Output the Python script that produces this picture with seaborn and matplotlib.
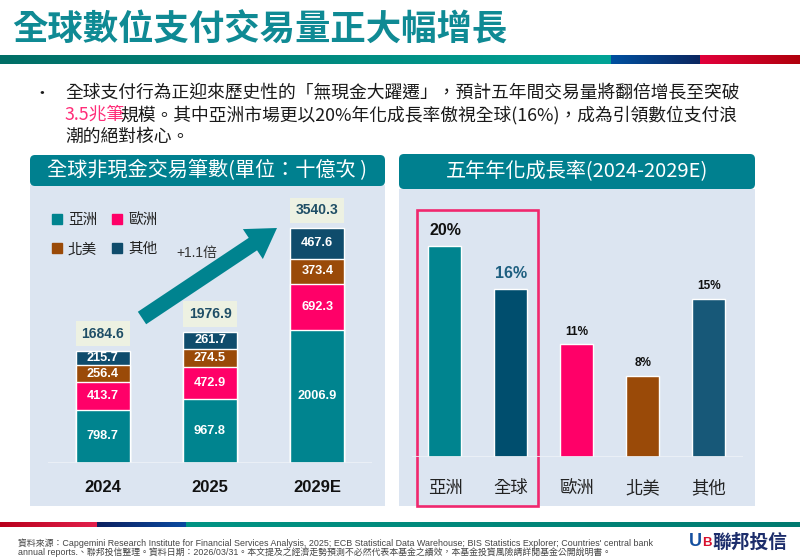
import numpy as np
import matplotlib
matplotlib.use("Agg")
import matplotlib.pyplot as plt
import seaborn as sns
from matplotlib.patches import Rectangle, FancyBboxPatch, FancyArrow
from matplotlib.colors import LinearSegmentedColormap
from matplotlib.lines import Line2D

# Data: global non-cash transactions (billions)
years = ["2024", "2025", "2029E"]
asia = [798.7, 967.8, 2006.9]
europe = [413.7, 472.9, 692.3]
north_america = [256.4, 274.5, 373.4]
others = [215.7, 261.7, 467.6]
totals = [1684.6, 1976.9, 3540.3]

# Data: 5-year CAGR (2024-2029E)
regions = ["亞洲", "全球", "歐洲", "北美", "其他"]
cagr = [20.1, 16.0, 10.8, 7.7, 15.0]
cagr_labels = ["20%", "16%", "11%", "8%", "15%"]

# Colours
c_asia = "#00848f"
c_eu = "#ff0068"
c_na = "#9a4a08"
c_other = "#0f4c6c"
c_global = "#004e6e"
c_other_r = "#175878"
teal = "#00838f"
panel_bg = "#dce5f1"
header_c = "#00808f"

sns.set_theme(style="white")
plt.rcParams["font.family"] = ["Noto Sans CJK TC", "DejaVu Sans"]
num_font = ["Liberation Sans", "Noto Sans CJK TC"]

W, H = 800, 557
fig = plt.figure(figsize=(8, 5.57), dpi=100)
fig.patch.set_facecolor("white")


def px_axes(x0, y0, x1, y1):
    return fig.add_axes([x0 / W, 1 - y1 / H, (x1 - x0) / W, (y1 - y0) / H])


bg = fig.add_axes([0, 0, 1, 1])
bg.axis("off")


def band(x0, x1, y0, y1, c0, c1):
    cmap = LinearSegmentedColormap.from_list("g", [c0, c1])
    bg.imshow(np.linspace(0, 1, 256)[None, :], cmap=cmap, extent=(x0, x1, y1, y0),
              aspect="auto", interpolation="bilinear")


# top and bottom colour bands
band(0, 611, 55, 64, "#006e66", "#00a396")
band(611, 700, 55, 64, "#0050a0", "#0c2760")
band(700, 800, 55, 64, "#e2003c", "#b0000c")
band(0, 97, 522, 527, "#b8001c", "#e2204c")
band(97, 186, 522, 527, "#0c2060", "#0a4aa0")
band(186, 800, 522, 527, "#009484", "#007a70")
bg.set_xlim(0, W)
bg.set_ylim(H, 0)

# title
bg.text(12, 30, "全球數位支付交易量正大幅增長", fontsize=25.5, color="#0f8a94",
        weight="bold", ha="left", va="center")

# bullet text
body = "#1a1a1a"
bg.text(42, 93, "•", fontsize=12, color=body, ha="center", va="center")
bg.text(65, 93, "全球支付行為正迎來歷史性的「無現金大躍遷」，預計五年間交易量將翻倍增長至突破",
        fontsize=12.8, color=body, ha="left", va="center")
t1 = bg.text(65, 115, "3.5兆筆", fontsize=12.8, color="#ff2d78", ha="left", va="center")
bg.annotate("規模。其中亞洲市場更以20%年化成長率傲視全球(16%)，成為引領數位支付浪",
            xy=(1, 0.5), xycoords=t1, xytext=(-3.5, 0), textcoords="offset points",
            fontsize=12.8, color=body, ha="left", va="center")
bg.text(65, 137, "潮的絕對核心。", fontsize=12.8, color=body, ha="left", va="center")

# panels
bg.add_patch(Rectangle((30, 185), 355, 321, fc=panel_bg, ec="none"))
bg.add_patch(FancyBboxPatch((30, 155), 355, 31, boxstyle="round,pad=0,rounding_size=5",
                            fc=header_c, ec="none"))
bg.text(207, 171, "全球非現金交易筆數(單位：十億次 )", fontsize=14.5, color="white",
        weight="medium", ha="center", va="center")

bg.add_patch(Rectangle((399, 189), 356, 317, fc=panel_bg, ec="none"))
bg.add_patch(FancyBboxPatch((399, 154), 356, 35, boxstyle="round,pad=0,rounding_size=5",
                            fc=header_c, ec="none"))
bg.text(577, 171, "五年年化成長率(2024-2029E)", fontsize=14.5, color="white",
        weight="medium", ha="center", va="center")

# growth arrow
bg.add_patch(FancyArrow(142, 318, 277 - 142, 228 - 318, width=15, head_width=36,
                        head_length=29, length_includes_head=True, color=teal, lw=0, zorder=3))
bg.text(197, 253, "+1.1倍", fontsize=10, color="#333333", family=num_font,
        ha="center", va="center")

# pink highlight box
bg.add_patch(Rectangle((417, 210), 121, 296, fill=False, ec="#f0286e", lw=1.9, zorder=5))

# footer
foot = "#444444"
bg.text(18, 543, "資料來源：Capgemini Research Institute for Financial Services Analysis, 2025; "
        "ECB Statistical Data Warehouse; BIS Statistics Explorer; Countries' central bank",
        fontsize=6.4, color=foot, family=num_font, ha="left", va="center")
bg.text(18, 552, "annual reports.、聯邦投信整理。資料日期：2026/03/31。本文提及之經濟走勢預測"
        "不必然代表本基金之績效，本基金投資風險請詳閱基金公開說明書。",
        fontsize=6.4, color=foot, family=num_font, ha="left", va="center")
bg.text(787, 542, "聯邦投信", fontsize=13.5, weight="bold", color="#1c2d6b",
        ha="right", va="center")
bg.text(689, 542, "U", fontsize=13, weight="bold", color="#1550a0", family=num_font,
        ha="left", va="center")
bg.text(702.5, 543, "B", fontsize=9.5, weight="bold", color="#d8102e", family=num_font,
        ha="left", va="center")

# ---- left chart: stacked bars ----
ax1 = px_axes(48, 190, 372, 463)
ax1.patch.set_alpha(0)
cum = np.cumsum([asia, europe, north_america, others], axis=0)
for h, c in [(cum[3], c_other), (cum[2], c_na), (cum[1], c_eu), (cum[0], c_asia)]:
    sns.barplot(x=years, y=h, color=c, width=0.5, saturation=1, errorbar=None, ax=ax1)

for i in range(len(years)):
    bottom = 0
    for v in [asia[i], europe[i], north_america[i], others[i]]:
        ax1.text(i, bottom + v / 2, f"{v:.1f}", color="white", weight="bold",
                 fontsize=9.2, family=num_font, ha="center", va="center")
        bottom += v
    ax1.annotate(f"{totals[i]:.1f}", (i, cum[3][i]), xytext=(0, 12.6),
                 textcoords="offset points", ha="center", va="center",
                 fontsize=10, weight="bold", color="#1f4e66", family=num_font,
                 bbox=dict(boxstyle="square,pad=0.42", fc="#edf1e2", ec="none"))

ax1.set_ylim(0, 4111)
ax1.set_xlim(-0.51, 2.51)
ax1.axhline(0, color="#eef2f8", lw=1.2)
ax1.set_yticks([])
ax1.set_xlabel("")
ax1.set_ylabel("")
sns.despine(ax=ax1, left=True, bottom=True)
ax1.tick_params(axis="x", length=0, pad=12.5)
for lab in ax1.get_xticklabels():
    lab.set_fontfamily(num_font)
    lab.set_fontweight("bold")
    lab.set_fontsize(12)
    lab.set_color("#111111")

handles = [Line2D([], [], marker="s", ls="", color=c, markersize=7, label=l)
           for c, l in [(c_asia, "亞洲"), (c_na, "北美"), (c_eu, "歐洲"), (c_other, "其他")]]
ax1.legend(handles=handles, ncol=2, loc="upper left", bbox_to_anchor=(51 / W, 1 - 213 / H),
           bbox_transform=fig.transFigure, frameon=False, fontsize=10.5, handletextpad=0.35,
           columnspacing=1.0, labelspacing=1.05, borderpad=0, borderaxespad=0,
           handlelength=0.8, labelcolor="#222222")

# ---- right chart: CAGR bars ----
ax2 = px_axes(412, 195, 743, 457)
ax2.patch.set_alpha(0)
sns.barplot(x=regions, y=cagr, hue=regions, palette=[c_asia, c_global, c_eu, c_na, c_other_r],
            width=0.5, saturation=1, errorbar=None, legend=False, ax=ax2)
sizes = [11.5, 11.5, 8.5, 8.5, 8.5]
colors = ["#111111", "#1e5f80", "#111111", "#111111", "#111111"]
offsets = [11.0, 10.8, 8.6, 9.4, 9.4]
for i, (v, lab) in enumerate(zip(cagr, cagr_labels)):
    ax2.annotate(lab, (i, v), xytext=(0, offsets[i]), textcoords="offset points",
                 ha="center", va="center", fontsize=sizes[i], weight="bold",
                 color=colors[i], family=num_font)
ax2.set_ylim(0, 24.95)
ax2.set_xlim(-0.5, 4.52)
ax2.axhline(0, color="#eef2f8", lw=1.2)
ax2.set_yticks([])
ax2.set_xlabel("")
ax2.set_ylabel("")
sns.despine(ax=ax2, left=True, bottom=True)
ax2.tick_params(axis="x", length=0, pad=16, labelsize=12.5, labelcolor="#222222")

fig.savefig("out.png", dpi=100)
